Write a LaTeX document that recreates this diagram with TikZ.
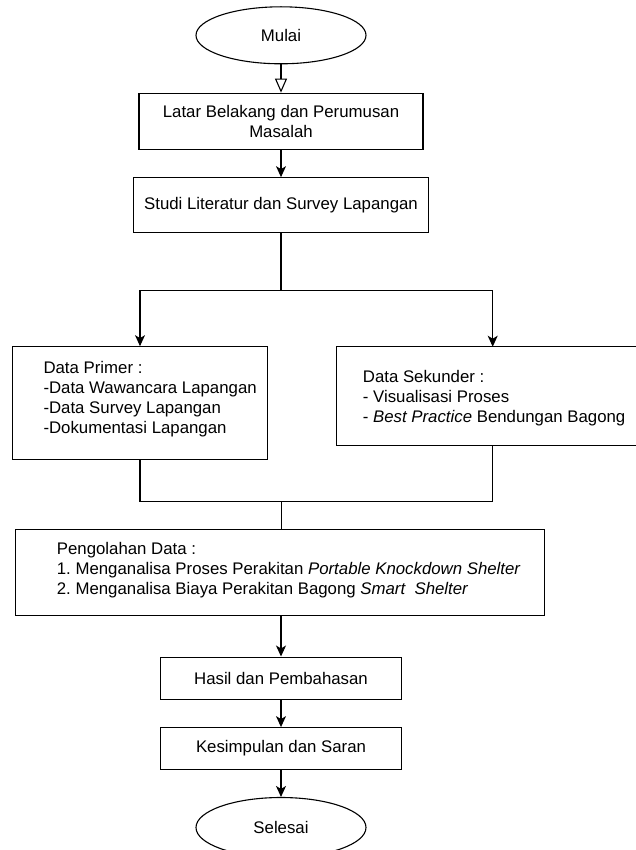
\documentclass[tikz,border=0pt]{standalone}
\usepackage{fontspec}
\setmainfont{Liberation Sans}
\usetikzlibrary{arrows.meta,shapes.geometric}
\frenchspacing
\begin{document}
\begin{tikzpicture}[x=1pt,y=-1pt,
  every node/.style={font=\fontsize{16.8}{19.9}\selectfont\frenchspacing, inner sep=0pt},
  box/.style={draw, line width=1.1pt, rectangle, align=center},
  term/.style={draw, line width=1.1pt, ellipse, minimum width=170pt, minimum height=57pt},
  txt/.style={align=left, anchor=west},
  conn/.style={line width=1.1pt},
  arr/.style={conn, -{Stealth[length=11pt,width=10pt,inset=3pt]}},
  openarr/.style={conn, -{Triangle[open,length=14pt,width=12pt,fill=white]}}
]
\useasboundingbox (0,0) rectangle (636,850);
% nodes
\node[term] (mulai) at (281,35.3) {Mulai};
\node[box, minimum width=284pt, minimum height=56.6pt] (latar) at (281,121.5) {Latar Belakang dan Perumusan\\Masalah};
\node[box, minimum width=295pt, minimum height=54.6pt] (studi) at (281,205) {Studi Literatur dan Survey Lapangan};
\node[box, minimum width=254.4pt, minimum height=112.6pt] (primer) at (140,403) {};
\node[txt] (primertxt) at (43.3,399.5) {Data Primer :\\-Data Wawancara Lapangan\\-Data Survey Lapangan\\-Dokumentasi Lapangan};
\node[box, minimum width=303.3pt, minimum height=98.6pt] (sekunder) at (488.35,396) {};
\node[txt] (sekundertxt) at (362.7,398.5) {Data Sekunder :\\- Visualisasi Proses\\- \textit{Best Practice} Bendungan Bagong};
\node[box, minimum width=529.3pt, minimum height=85.7pt] (olah) at (280,572.2) {};
\node[txt] (olahtxt) at (56.7,570.5) {Pengolahan Data :\\1. Menganalisa Proses Perakitan \textit{Portable Knockdown Shelter}\\2. Menganalisa Biaya Perakitan Bagong \textit{Smart\ \ Shelter}};
\node[box, minimum width=241pt, minimum height=42.3pt] (hasil) at (281,678.2) {Hasil dan Pembahasan};
\node[box, minimum width=241pt, minimum height=41.7pt] (simpul) at (281,748.5) {Kesimpulan dan Saran};
\node[term, minimum height=60pt] (selesai) at (281,827.5) {Selesai};
% coordinates
\coordinate (br) at (281,290.7);
\coordinate (sin) at (492.7,346.7);
\coordinate (sout) at (492.7,445.3);
\coordinate (mg) at (281.7,501.7);
% connectors
\draw[openarr] (mulai.south) -- (latar.north);
\draw[arr] (latar.south) -- (studi.north);
\draw[conn] (studi.south) -- (br);
\draw[arr] (br) -| (primer.north);
\draw[arr] (br) -| (sin);
\draw[conn] (primer.south) |- (mg) -| (sout);
\draw[conn] (mg) -- (mg |- olah.north);
\draw[arr] (olah.south -| hasil.north) -- (hasil.north);
\draw[arr] (hasil.south) -- (simpul.north);
\draw[arr] (simpul.south) -- (selesai.north);
\end{tikzpicture}
\end{document}
